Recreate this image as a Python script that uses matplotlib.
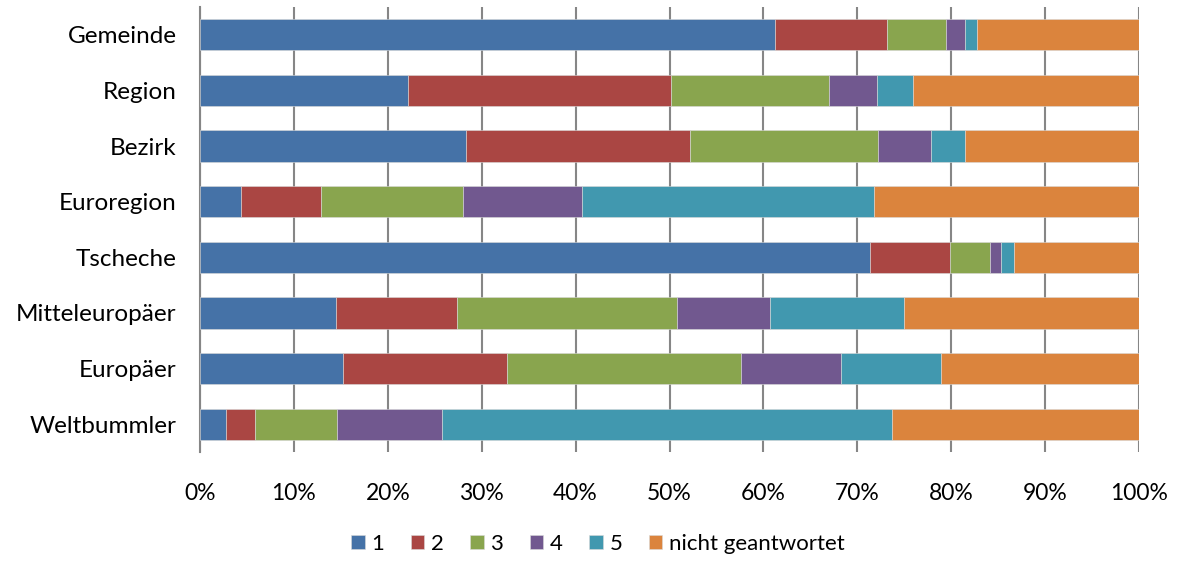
import matplotlib.pyplot as plt
import numpy as np

categories = ["Gemeinde", "Region", "Bezirk", "Euroregion", "Tscheche",
              "Mitteleuropäer", "Europäer", "Weltbummler"]
series_names = ["1", "2", "3", "4", "5", "nicht geantwortet"]
# share in percent per answer, one list per series (same order as categories)
s1 = [61.2, 22.2, 28.3, 4.4, 71.3, 14.5, 15.2, 2.8]
s2 = [12.0, 28.0, 23.9, 8.5, 8.6, 12.9, 17.5, 3.1]
s3 = [6.2, 16.8, 20.0, 15.1, 4.2, 23.4, 24.9, 8.7]
s4 = [2.1, 5.1, 5.6, 12.7, 1.2, 9.9, 10.7, 11.2]
s5 = [1.3, 3.8, 3.7, 31.1, 1.4, 14.3, 10.6, 47.9]
s6 = [17.2, 24.1, 18.5, 28.2, 13.3, 25.0, 21.1, 26.3]
xticks = [0, 10, 20, 30, 40, 50, 60, 70, 80, 90, 100]

colors = ["#4572A7", "#AA4643", "#89A54E", "#71588F", "#4198AF", "#DB843D"]

plt.rcParams['font.family'] = ['Lato', 'DejaVu Sans']

fig = plt.figure(figsize=(11.79, 5.61), dpi=100)
ax = fig.add_axes([200/1179, 1 - 452/561, 939/1179, 445/561])

y = np.arange(len(categories))
left = np.zeros(len(categories))
for name, vals, c in zip(series_names, [s1, s2, s3, s4, s5, s6], colors):
    vals = np.array(vals)
    ax.barh(y, vals, left=left, height=0.56, color=c, label=name,
            edgecolor="#d9d9d9", linewidth=0.4, zorder=3)
    left += vals

ax.set_xlim(0, 100)
ax.set_ylim(len(categories) - 0.5, -0.5)
ax.set_yticks(y)
ax.set_yticklabels(categories, fontsize=17.5)
ax.set_xticks(xticks)
ax.set_xticklabels([f"{t}%" for t in xticks], fontsize=16.5)
ax.xaxis.grid(True, color="#868686", linewidth=1.5, zorder=0)
ax.tick_params(axis="both", length=0)
ax.tick_params(axis="x", pad=22)
ax.tick_params(axis="y", pad=17)
for s in ["top", "right", "bottom"]:
    ax.spines[s].set_visible(False)
ax.spines["left"].set_color("#868686")
ax.spines["left"].set_linewidth(1.5)

fig.legend(loc="center", bbox_to_anchor=(598/1179, 1 - 544/561), ncol=6,
           frameon=False, fontsize=16, handlelength=0.6, handleheight=0.6,
           handletextpad=0.3, columnspacing=1.2)

fig.savefig("out.png", dpi=100)
